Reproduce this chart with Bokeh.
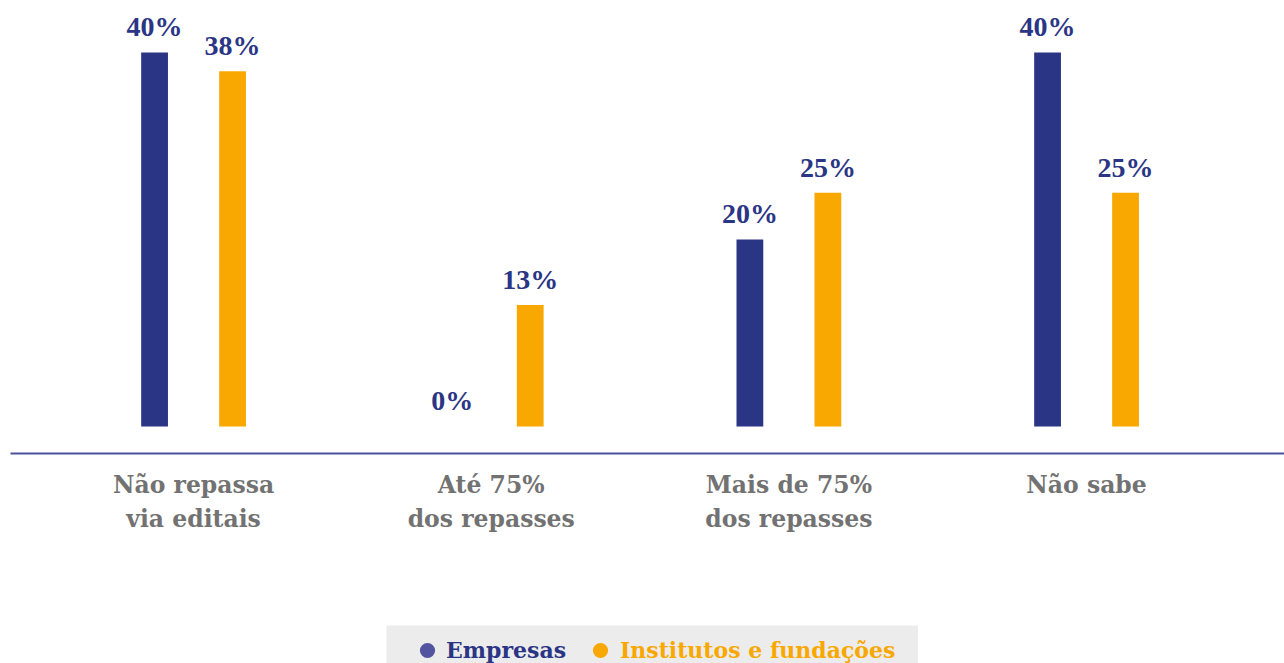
from bokeh.plotting import figure
from bokeh.models import (ColumnDataSource, Range1d, FixedTicker, LabelSet, Legend,
                          LegendItem, Spacer)
from bokeh.transform import dodge
from bokeh.layouts import column, row
from bokeh.embed import file_html
from bokeh.resources import INLINE

categories = ["Não repassa\nvia editais", "Até 75%\ndos repasses",
              "Mais de 75%\ndos repasses", "Não sabe"]
empresas = [40, 0, 20, 40]
institutos = [38, 13, 25, 25]
series_names = ["Empresas", "Institutos e fundações"]

NAVY = "#2a3585"
ORANGE = "#f8a800"
GRAY = "#727272"
FONT = "DejaVu Serif"

idx = list(range(len(categories)))
src = ColumnDataSource(dict(
    x=idx, emp=empresas, inst=institutos,
    emp_lbl=[f"{v}%" for v in empresas],
    inst_lbl=[f"{v}%" for v in institutos],
))

p = figure(width=1284, height=625, output_backend="svg", toolbar_location=None,
           x_range=Range1d(-0.615, 3.665), y_range=Range1d(-2.89, 45.56),
           min_border_left=10, min_border_right=0, min_border_top=0, min_border_bottom=172)
p.outline_line_color = None
p.grid.visible = False
p.yaxis.visible = False
p.background_fill_color = "white"
p.border_fill_color = "white"

off = 0.131
w = 0.09
p.vbar(x=dodge("x", -off, range=p.x_range), top="emp", bottom=0, width=w, source=src,
       fill_color=NAVY, line_color=None)
p.vbar(x=dodge("x", off, range=p.x_range), top="inst", bottom=0, width=w, source=src,
       fill_color=ORANGE, line_color=None)

for col, lbl, o in (("emp", "emp_lbl", -off), ("inst", "inst_lbl", off)):
    p.add_layout(LabelSet(x=dodge("x", o, range=p.x_range), y=col, text=lbl, source=src,
                          text_align="center", text_baseline="bottom", y_offset=10,
                          text_font=FONT, text_font_style="bold", text_font_size="28px",
                          text_color=NAVY))

ax = p.xaxis[0]
ax.ticker = FixedTicker(ticks=idx)
ax.major_label_overrides = {i: c for i, c in zip(idx, categories)}
ax.major_tick_line_color = None
ax.minor_tick_line_color = None
ax.axis_line_color = "#4a53a0"
ax.axis_line_width = 2
ax.major_label_standoff = 11
ax.major_label_text_font = FONT
ax.major_label_text_font_style = "bold"
ax.major_label_text_font_size = "23.5px"
ax.major_label_text_color = GRAY
ax.major_label_text_line_height = 1.22

# legend strip
lg = figure(width=532, height=38, output_backend="svg", toolbar_location=None,
            x_range=Range1d(0, 1), y_range=Range1d(0, 1),
            min_border_left=0, min_border_right=0, min_border_top=0, min_border_bottom=0)
lg.axis.visible = False
lg.grid.visible = False
lg.outline_line_color = None
lg.background_fill_color = "#ececec"
lg.border_fill_color = "#ececec"
r_emp = lg.scatter(x="x", y="emp", source=src, marker="circle",
                   fill_color="#5254a0", line_color=None, visible=False)
r_inst = lg.scatter(x="x", y="inst", source=src, marker="circle",
                    fill_color=ORANGE, line_color=None, visible=False)

for name, r, color, loc, stand in ((series_names[0], r_emp, NAVY, (22, -6), 0),
                                   (series_names[1], r_inst, ORANGE, (195, -6), 1)):
    leg = Legend(items=[LegendItem(label=name, renderers=[r])], location=loc,
                 orientation="horizontal", background_fill_alpha=0, border_line_color=None,
                 padding=0, margin=0, spacing=0, glyph_width=38, glyph_height=38,
                 label_standoff=stand, label_text_font=FONT, label_text_font_style="bold",
                 label_text_font_size="22px", label_text_color=color)
    lg.add_layout(leg, "center")

layout = column(p, row(Spacer(width=386, height=38), lg))

open("out.html", "w").write(file_html(layout, INLINE))
